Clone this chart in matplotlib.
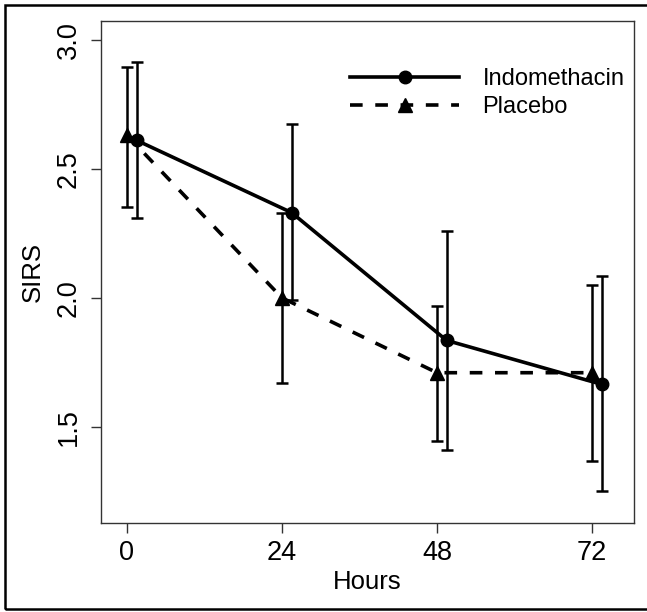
import numpy as np
import matplotlib
matplotlib.use("Agg")
from matplotlib import pyplot as plt
from matplotlib.patches import Rectangle

plt.rcParams['font.family'] = ['Liberation Sans', 'DejaVu Sans']

# data
hours = [0, 24, 48, 72]
indo_mean = [2.61, 2.33, 1.835, 1.665]
indo_lo = [2.31, 1.99, 1.41, 1.25]
indo_hi = [2.915, 2.675, 2.26, 2.085]
plac_mean = [2.63, 2.00, 1.71, 1.71]
plac_lo = [2.35, 1.67, 1.445, 1.37]
plac_hi = [2.895, 2.33, 1.97, 2.05]

offset = 1.5  # indomethacin drawn slightly to the right

fig = plt.figure(figsize=(6.47, 6.12), dpi=100)
ax = fig.add_axes([101/647, 1 - 523/612, (634-101)/647, (523-21)/612])

xi = np.array(hours) + offset
xp = np.array(hours)

lw = 2.6
# error bars
ax.errorbar(xp, plac_mean,
            yerr=[np.array(plac_mean) - plac_lo, np.array(plac_hi) - plac_mean],
            fmt='none', ecolor='black', elinewidth=1.8, capsize=4.5, capthick=1.8)
ax.errorbar(xi, indo_mean,
            yerr=[np.array(indo_mean) - indo_lo, np.array(indo_hi) - indo_mean],
            fmt='none', ecolor='black', elinewidth=1.8, capsize=4.5, capthick=1.8)

ax.plot(xi, indo_mean, color='black', lw=lw, marker='o', ms=9, label='Indomethacin')
ax.plot(xp, plac_mean, color='black', lw=lw, marker='^', ms=9.5,
        dashes=(3.5, 3.5), label='Placebo')

ax.set_xlim(-4, 78.5)
ax.set_ylim(1.128, 3.072)
ax.set_xticks(hours)
ax.set_yticks([1.5, 2.0, 2.5, 3.0])
ax.set_yticklabels(['1.5', '2.0', '2.5', '3.0'], rotation=90, va='center')

for s in ax.spines.values():
    s.set_linewidth(1.0)
    s.set_color('#333333')
ax.tick_params(direction='out', length=7, width=1.0, color='#333333',
               labelsize=19.5, pad=5)
ax.tick_params(axis='y', pad=7)

ax.set_xlabel('Hours', fontsize=18.5, labelpad=3)
ax.set_ylabel('SIRS', fontsize=18.5, labelpad=8)

ax.legend(loc='upper right', bbox_to_anchor=(1.0, 0.925), frameon=False,
          fontsize=17, handlelength=4.6, numpoints=1, handletextpad=1.0,
          labelspacing=0.25, borderaxespad=0)

# outer border around the whole figure
fig.patches.append(Rectangle((5/647, 3/612), 1.0, 1 - 8/612, transform=fig.transFigure,
                             fill=False, lw=1.8, edgecolor='black'))

fig.savefig('out.png', dpi=100)
